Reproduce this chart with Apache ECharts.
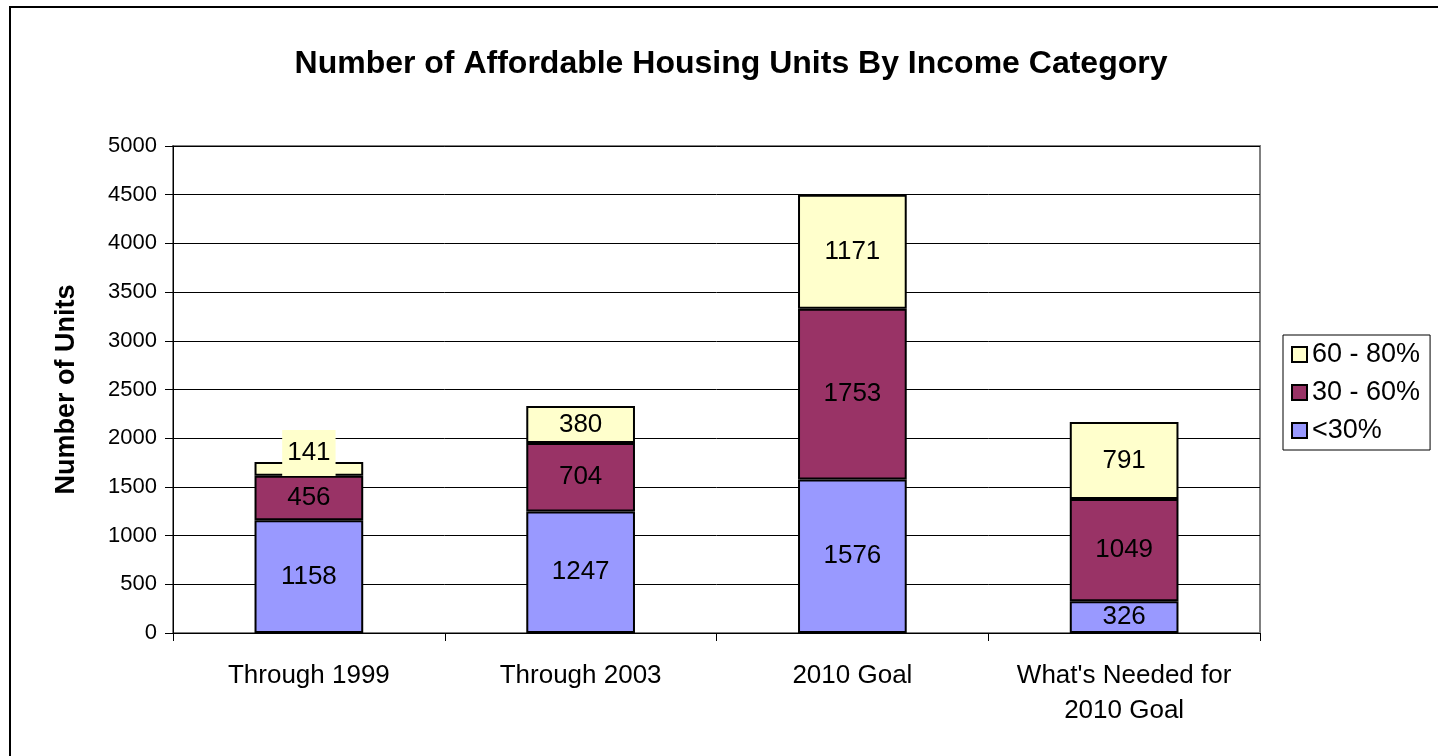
<!DOCTYPE html>
<html><head><meta charset="utf-8">
<script src="https://cdn.jsdelivr.net/npm/echarts@6/dist/echarts.min.js"></script>
<style>html,body{margin:0;padding:0;background:#fff}#c{width:1438px;height:756px}</style>
</head><body><div id="c"></div>
<script>
const categories = ["Through 1999", "Through 2003", "2010 Goal", "What's Needed for\n2010 Goal"];
const below30 = [1158, 1247, 1576, 326];
const from30to60 = [456, 704, 1753, 1049];
const from60to80 = [141, 380, 1171, 791];
const seriesNames = ["<30%", "30 - 60%", "60 - 80%"];
const yTicks = {min: 0, max: 5000, interval: 500};

const font = "'Liberation Sans', Arial, sans-serif";
const chart = echarts.init(document.getElementById('c'));
const lbl = {show: true, position: 'inside', color: '#000', fontSize: 26, fontFamily: font};
const mk = (name, data, color) => ({
  name, type: 'bar', stack: 'total', data, barWidth: '40%',
  itemStyle: {color, borderColor: '#000', borderWidth: 2},
  label: lbl
});
const topData = from60to80.map((v, i) => i === 0 ? {value: v, label: {offset: [0, -16], backgroundColor: '#FFFFCC', padding: [10, 5, 10, 5]}} : v);
chart.setOption({
  animation: false,
  textStyle: {fontFamily: font},
  title: {text: 'Number of Affordable Housing Units By Income Category', left: 726, textAlign: 'center', top: 43,
    textStyle: {fontSize: 32, fontWeight: 'bold', color: '#000', fontFamily: font}},
  graphic: [{type: 'rect', shape: {x: 10, y: 7, width: 1440, height: 760}, style: {fill: 'none', stroke: '#000', lineWidth: 2}, silent: true, z: -1}],
  grid: {left: 173, right: 178, top: 146, bottom: 123, show: true, borderColor: '#808080', borderWidth: 2, backgroundColor: 'transparent'},
  legend: {
    orient: 'vertical', left: 1283, top: 335, data: ["60 - 80%", "30 - 60%", "<30%"],
    itemWidth: 15, itemHeight: 15, itemGap: 11, padding: [6, 10, 6, 8],
    borderColor: '#000', borderWidth: 1,
    textStyle: {fontSize: 27, color: '#000', fontFamily: font},
    icon: 'rect', itemStyle: {borderColor: '#000', borderWidth: 2}
  },
  xAxis: {type: 'category', data: categories,
    axisLine: {lineStyle: {color: '#000', width: 1}},
    axisTick: {show: true, interval: 0, length: 8, lineStyle: {color: '#000'}},
    axisLabel: {interval: 0, fontSize: 26, color: '#000', margin: 25, lineHeight: 35, fontFamily: font}
  },
  yAxis: {type: 'value', min: yTicks.min, max: yTicks.max, interval: yTicks.interval,
    name: 'Number of Units', nameLocation: 'middle', nameGap: 93, nameRotate: 90,
    nameTextStyle: {fontSize: 27, fontWeight: 'bold', color: '#000', fontFamily: font},
    axisLine: {show: true, lineStyle: {color: '#000', width: 1}},
    axisTick: {show: true, length: 8, lineStyle: {color: '#000'}},
    axisLabel: {fontSize: 22, color: '#000', margin: 16, fontFamily: font, formatter: v => String(v)},
    splitLine: {lineStyle: {color: '#000', width: 1}}
  },
  series: [
    mk(seriesNames[0], below30, '#9999FF'),
    mk(seriesNames[1], from30to60, '#993366'),
    mk(seriesNames[2], topData, '#FFFFCC')
  ]
});
</script></body></html>
